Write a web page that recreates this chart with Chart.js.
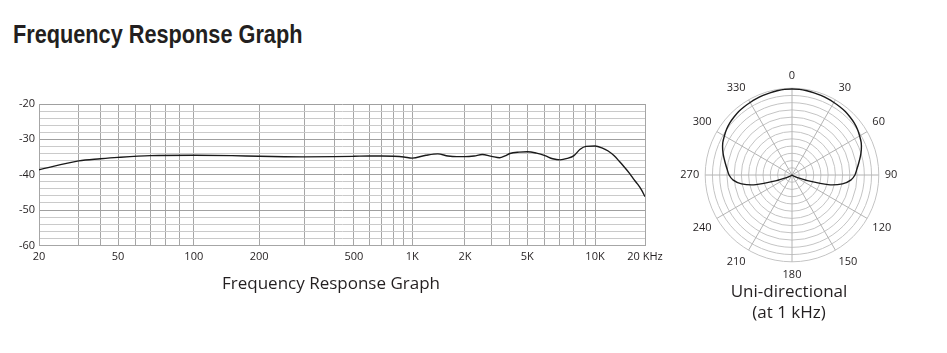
<!DOCTYPE html>
<html>
<head>
<meta charset="utf-8">
<script src="https://cdn.jsdelivr.net/npm/chart.js@4.4.1/dist/chart.umd.min.js"></script>
<style>
  html, body { margin: 0; padding: 0; background: #ffffff; }
  body { width: 947px; height: 353px; position: relative; overflow: hidden; }
  #heading {
    position: absolute; left: 13px; top: 22px;
    font-family: "Liberation Sans Narrow", "Liberation Sans", sans-serif;
    font-weight: bold; font-size: 25px; line-height: 25px;
    color: #231f20; white-space: nowrap;
    transform: scaleX(0.868); transform-origin: 0 0;
  }
  canvas { position: absolute; }
  #freq { left: 0px; top: 84px; }
  #polar { left: 673px; top: 69px; }
</style>
</head>
<body>
<div id="heading">Frequency Response Graph</div>
<canvas id="freq" width="675" height="210"></canvas>
<canvas id="polar" width="232" height="255"></canvas>
<script>
// ---------------- data ----------------
const FREQ_CAPTION = 'Frequency Response Graph';
const POLAR_CAPTION = ['Uni-directional', '(at 1 kHz)'];

const FREQ_HZ = [20, 30, 40, 50, 70, 100, 150, 200, 300, 400, 500, 600, 700, 800, 900,
  1000, 1200, 1400, 1600, 1800, 2000, 2300, 2600, 3000, 3400, 3700, 4000, 4500, 5000,
  5500, 6000, 6500, 7000, 7500, 8000, 8500, 9000, 10000, 11000, 12000, 13000, 14000,
  15000, 16000, 17000, 18000, 19000, 20000];
const RESPONSE_DB = [-38.6, -36.1, -35.5, -35.1, -34.6, -34.5, -34.6, -34.8, -34.95, -34.9, -34.8, -34.7, -34.7, -34.8, -35.0,
  -35.3, -34.5, -34.1, -34.7, -34.9, -34.9, -34.7, -34.3, -34.8, -35.2, -34.7, -34.0, -33.6, -33.5,
  -33.9, -34.6, -35.5, -35.8, -35.4, -34.6, -32.8, -32.0, -31.9, -32.4, -33.3, -34.6, -36.2,
  -37.8, -39.4, -41.1, -42.6, -44.2, -46.2];

const X_GRID_HZ = [20, 30, 40, 50, 60, 70, 80, 90, 100, 200, 300, 400, 500, 600, 700, 800, 900,
  1000, 2000, 3000, 4000, 5000, 6000, 7000, 8000, 9000, 10000, 20000];
const X_TICK_HZ = [20, 50, 100, 200, 500, 1000, 2000, 5000, 10000, 20000];
const X_TICK_LABELS = ['20', '50', '100', '200', '500', '1K', '2K', '5K', '10K', '20 KHz'];
const Y_MIN = -60, Y_MAX = -20, Y_GRID_STEP = 2, Y_LABEL_STEP = 10;

const POLAR_ANGLES = [0, 5, 10, 15, 20, 25, 30, 35, 40, 45, 50, 55, 60, 65, 70, 75, 80, 85,
  90, 95, 100, 105, 110, 115, 120, 125, 130, 135, 140, 145, 150, 155, 160, 165, 170, 175,
  180, 185, 190, 195, 200, 205, 210, 215, 220, 225, 230, 235, 240, 245, 250, 255, 260, 265,
  270, 275, 280, 285, 290, 295, 300, 305, 310, 315, 320, 325, 330, 335, 340, 345, 350, 355];
const POLAR_LEVEL = [0.99, 0.99, 0.985, 0.98, 0.975, 0.97, 0.965, 0.96, 0.955, 0.945, 0.935, 0.92, 0.90, 0.88, 0.85, 0.815, 0.78, 0.75,
  0.725, 0.68, 0.59, 0.43, 0.19, 0.07, 0.03, 0.015, 0, 0, 0, 0, 0, 0, 0, 0, 0, 0,
  0, 0, 0, 0, 0, 0, 0, 0, 0, 0, 0, 0.015, 0.03, 0.07, 0.19, 0.43, 0.59, 0.68,
  0.725, 0.75, 0.78, 0.815, 0.85, 0.88, 0.90, 0.92, 0.935, 0.945, 0.955, 0.96, 0.965, 0.97, 0.975, 0.98, 0.985, 0.99];
const POLAR_LABEL_STEP = 30;
const POLAR_RINGS = 12;

// ---- axis calibration: the printed log grid is not evenly spaced per decade ----
const X_AXIS_WARP_HZ = X_GRID_HZ;
const X_AXIS_WARP_POS = [0, 0.0655, 0.1014, 0.1304, 0.1597, 0.1839, 0.2092, 0.2311, 0.2554,
  0.3632, 0.4375, 0.4870, 0.5196, 0.5448, 0.5653, 0.5856, 0.6021, 0.6158,
  0.7028, 0.7469, 0.7771, 0.8057, 0.8349, 0.8597, 0.8828, 0.9026, 0.9175, 1];

function warp(v) {
  const A = X_AXIS_WARP_HZ, P = X_AXIS_WARP_POS, lv = Math.log10(v);
  for (let i = 1; i < A.length; i++) {
    if (v <= A[i] || i === A.length - 1) {
      const a = Math.log10(A[i - 1]), b = Math.log10(A[i]);
      return P[i - 1] + (lv - a) / (b - a) * (P[i] - P[i - 1]);
    }
  }
}
function unwarp(d) {
  const A = X_AXIS_WARP_HZ, P = X_AXIS_WARP_POS;
  for (let i = 1; i < P.length; i++) {
    if (d <= P[i] || i === P.length - 1) {
      const a = Math.log10(A[i - 1]), b = Math.log10(A[i]);
      return Math.pow(10, a + (d - P[i - 1]) / (P[i] - P[i - 1]) * (b - a));
    }
  }
}

class WarpedLogScale extends Chart.LogarithmicScale {
  getPixelForValue(value) {
    if (value === undefined || value === 0) value = this.min;
    if (value === null || isNaN(value)) return NaN;
    return this.getPixelForDecimal(warp(value));
  }
  getValueForPixel(pixel) {
    return unwarp(this.getDecimalForPixel(pixel));
  }
}
WarpedLogScale.id = 'warpedLog';
WarpedLogScale.defaults = Chart.LogarithmicScale.defaults;
Chart.register(WarpedLogScale);

const TEXT = '#231f20';
const FONT = '"Open Sans", "Noto Sans", sans-serif';

// ---------------- frequency response ----------------
new Chart(document.getElementById('freq'), {
  type: 'line',
  data: {
    datasets: [{
      data: FREQ_HZ.map((f, i) => ({ x: f, y: RESPONSE_DB[i] })),
      borderColor: '#1a1a1a', borderWidth: 1.4, pointRadius: 0, fill: false,
      cubicInterpolationMode: 'monotone'
    }]
  },
  options: {
    responsive: false, animation: false, devicePixelRatio: 1,
    layout: { padding: { left: 17, right: 30, top: 20, bottom: 0 } },
    plugins: {
      legend: { display: false }, tooltip: { enabled: false },
      title: {
        display: true, text: FREQ_CAPTION, position: 'bottom', color: TEXT,
        font: { family: FONT, size: 17, weight: 'normal' }, padding: { top: 5, bottom: 0 }
      }
    },
    scales: {
      x: {
        type: 'warpedLog', min: X_GRID_HZ[0], max: X_GRID_HZ[X_GRID_HZ.length - 1],
        afterBuildTicks: s => { s.ticks = X_GRID_HZ.map(v => ({ value: v })); },
        ticks: {
          autoSkip: false, maxRotation: 0, minRotation: 0, padding: 5, color: TEXT,
          font: { family: FONT, size: 11 },
          callback: v => { const i = X_TICK_HZ.indexOf(v); return i < 0 ? '' : X_TICK_LABELS[i]; }
        },
        grid: { color: '#a6a6a6', drawTicks: false, lineWidth: 1 },
        border: { display: true, color: '#a6a6a6' }
      },
      y: {
        min: Y_MIN, max: Y_MAX,
        afterFit: s => { s.width = 22; },
        ticks: {
          stepSize: Y_GRID_STEP, autoSkip: false, padding: 4, color: TEXT,
          font: { family: FONT, size: 11 },
          callback: v => (v % Y_LABEL_STEP === 0 ? String(v) : '')
        },
        grid: {
          drawTicks: false, lineWidth: 1,
          color: c => (c.tick && c.tick.value % Y_LABEL_STEP === 0 ? '#a0a0a0' : '#cacaca')
        },
        border: { display: true, color: '#a6a6a6' }
      }
    }
  }
});

// ---------------- polar pattern ----------------
new Chart(document.getElementById('polar'), {
  type: 'radar',
  data: {
    labels: POLAR_ANGLES.map(a => (a % POLAR_LABEL_STEP === 0 ? String(a) : '')),
    datasets: [{
      data: POLAR_LEVEL, borderColor: '#1a1a1a', borderWidth: 1.4,
      pointRadius: 0, fill: false, tension: 0.25
    }]
  },
  options: {
    responsive: false, animation: false, devicePixelRatio: 1,
    layout: { padding: 0 },
    plugins: {
      legend: { display: false }, tooltip: { enabled: false },
      title: {
        display: true, text: POLAR_CAPTION, position: 'bottom', color: TEXT,
        font: { family: FONT, size: 17, weight: 'normal', lineHeight: 1.25 },
        padding: { top: 0, bottom: 0 }
      }
    },
    scales: {
      r: {
        min: 0, max: 1,
        ticks: { display: false, count: POLAR_RINGS + 1 },
        grid: { circular: true, color: '#c4c4c4', lineWidth: 1 },
        angleLines: {
          display: true,
          color: c => (POLAR_ANGLES[c.index] % POLAR_LABEL_STEP === 0 ? '#b4b4b4' : 'rgba(0,0,0,0)'),
          lineWidth: c => (POLAR_ANGLES[c.index] % POLAR_LABEL_STEP === 0 ? 1 : 0)
        },
        pointLabels: { padding: 6, color: TEXT, font: { family: FONT, size: 11 } }
      }
    }
  }
});
</script>
</body>
</html>
